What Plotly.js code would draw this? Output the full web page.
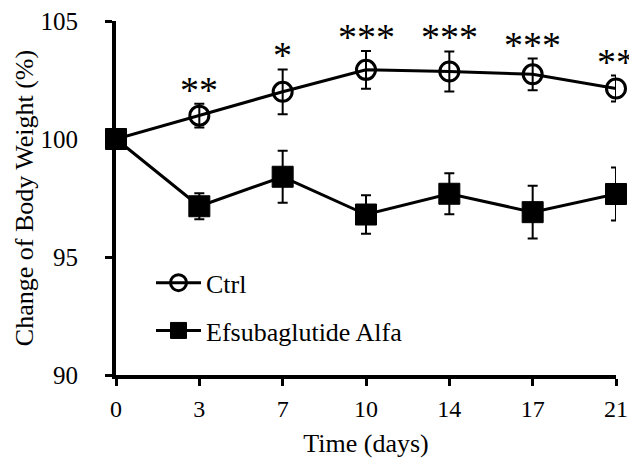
<!DOCTYPE html>
<html><head><meta charset="utf-8">
<script src="https://cdn.plot.ly/plotly-3.0.1.min.js"></script>
<style>html,body{margin:0;padding:0;background:#fff}#c{width:629px;height:460px}</style>
</head><body><div id="c"></div>
<script>
const days = ["0","3","7","10","14","17","21"];
const ctrlMean = [100, 100.99, 102.0, 102.93, 102.86, 102.74, 102.14];
const ctrlErr  = [0, 0.5, 0.95, 0.8, 0.85, 0.67, 0.55];
const efsuMean = [100, 97.15, 98.4, 96.8, 97.68, 96.9, 97.67];
const efsuErr  = [0, 0.55, 1.1, 0.82, 0.87, 1.12, 1.12];
const sigLabels = ["", "**", "*", "***", "***", "***", "**"];

const idx = days.map((d,i)=>i);
const F = "Liberation Serif, Times New Roman, serif";

const traces = [
  {x: idx, y: ctrlMean, name: "Ctrl", type: "scatter", mode: "lines+markers",
   legendgroup: "a", cliponaxis: false,
   line: {color: "#000", width: 3},
   marker: {symbol: "circle-open", size: 19, color: "#000", line: {width: 3, color: "#000"}},
   error_y: {type: "data", array: ctrlErr, visible: true, color: "#000", thickness: 2, width: 5}},
  {x: idx, y: efsuMean, name: "Efsubaglutide Alfa", type: "scatter", mode: "lines+markers",
   legendgroup: "b", cliponaxis: false,
   line: {color: "#000", width: 3},
   marker: {symbol: "square", size: 21, color: "#000", line: {width: 1, color: "#000"}},
   error_y: {type: "data", array: efsuErr, visible: true, color: "#000", thickness: 2, width: 5}}
];

const annotations = [];
idx.forEach(i => {
  if (sigLabels[i]) annotations.push({
    x: i, y: ctrlMean[i] + ctrlErr[i], xref: "x", yref: "y",
    text: sigLabels[i], showarrow: false, yanchor: "bottom", yshift: -9,
    font: {family: F, size: 38, color: "#000"}
  });
});

const layout = {
  width: 629, height: 460,
  margin: {l: 116, r: 13, t: 21, b: 85},
  paper_bgcolor: "#fff", plot_bgcolor: "#fff",
  font: {family: F, size: 24, color: "#000"},
  showlegend: true,
  legend: {x: 0.07, y: 0.327, xanchor: "left", yanchor: "top", bgcolor: "rgba(0,0,0,0)",
           font: {family: F, size: 26, color: "#000"}, tracegroupgap: 11, itemwidth: 45},
  xaxis: {range: [0, 6], tickvals: idx, ticktext: days, showgrid: false, zeroline: false,
          showline: true, linewidth: 4, linecolor: "#000", ticks: "outside", ticklen: 7, tickwidth: 3,
          tickcolor: "#000", tickfont: {family: F, size: 24}, ticklabelstandoff: 2,
          title: {text: "Time (days)", font: {family: F, size: 26}, standoff: 14}},
  yaxis: {range: [90, 105], tickvals: [90, 95, 100, 105], showgrid: false, zeroline: false,
          showline: true, linewidth: 4, linecolor: "#000", ticks: "outside", ticklen: 7, tickwidth: 3,
          tickcolor: "#000", tickfont: {family: F, size: 25}, ticklabelstandoff: 22,
          title: {text: "Change of Body Weight (%)", font: {family: F, size: 26}, standoff: 0}},
  annotations: annotations
};
Plotly.newPlot("c", traces, layout, {displayModeBar: false, staticPlot: true});
</script></body></html>
